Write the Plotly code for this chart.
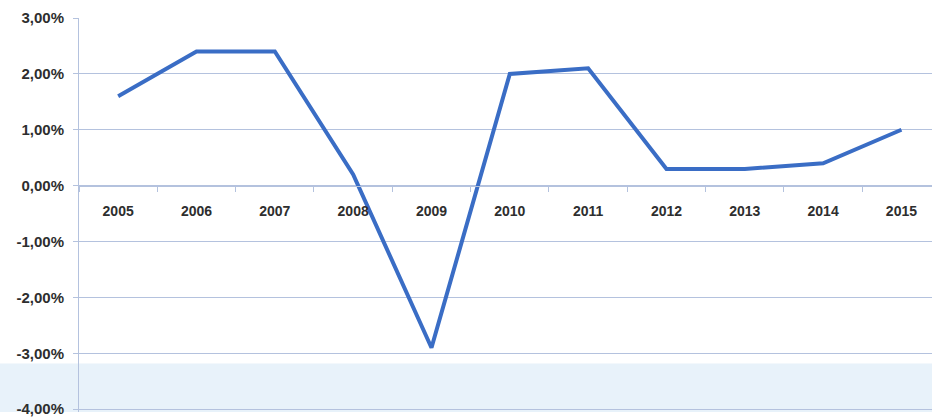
import plotly.graph_objects as go

years = ["2005", "2006", "2007", "2008", "2009", "2010",
         "2011", "2012", "2013", "2014", "2015"]
growth = [1.6, 2.4, 2.4, 0.2, -2.9, 2.0, 2.1, 0.3, 0.3, 0.4, 1.0]

y_ticks = [3, 2, 1, 0, -1, -2, -3, -4]
y_tick_labels = ["3,00%", "2,00%", "1,00%", "0,00%",
                 "-1,00%", "-2,00%", "-3,00%", "-4,00%"]

grid_color = "#b4c2de"
text_color = "#2e2e2e"
y_min, y_max = -4.05, 3

fig = go.Figure()
fig.add_trace(go.Scatter(
    x=years, y=growth, mode="lines",
    line=dict(color="#3a6dc5", width=4),
    hoverinfo="skip", showlegend=False,
))

# faint blue tint along the bottom of the page
fig.add_shape(type="rect", xref="paper", yref="y",
              x0=-0.12, x1=1.0, y0=-4.6, y1=-3.18,
              fillcolor="#e8f2fa", line=dict(width=0), layer="below")

fig.update_layout(
    width=932, height=417,
    margin=dict(l=79, r=0, t=18, b=2),
    paper_bgcolor="white", plot_bgcolor="white",
    font=dict(family="Liberation Sans, Arial, sans-serif", color=text_color),
    xaxis=dict(
        type="category",
        range=[-0.5, 10.39],
        anchor="free",
        position=(0 - y_min) / (y_max - y_min),
        showgrid=False, zeroline=False,
        showline=True, linecolor=grid_color, linewidth=1,
        ticks="outside", tickson="boundaries", ticklen=5,
        tickcolor=grid_color,
        ticklabelstandoff=13,
        tickfont=dict(size=14, weight="bold", color=text_color),
    ),
    yaxis=dict(
        range=[y_min, y_max],
        tickvals=y_ticks, ticktext=y_tick_labels,
        showgrid=True, gridcolor=grid_color, gridwidth=1,
        zeroline=False,
        showline=True, linecolor=grid_color, linewidth=1,
        ticks="outside", ticklen=5, tickcolor=grid_color,
        ticklabelstandoff=6, ticklabeloverflow="allow",
        tickfont=dict(size=15, weight="bold", color=text_color),
    ),
)

fig.write_html("out.html")
